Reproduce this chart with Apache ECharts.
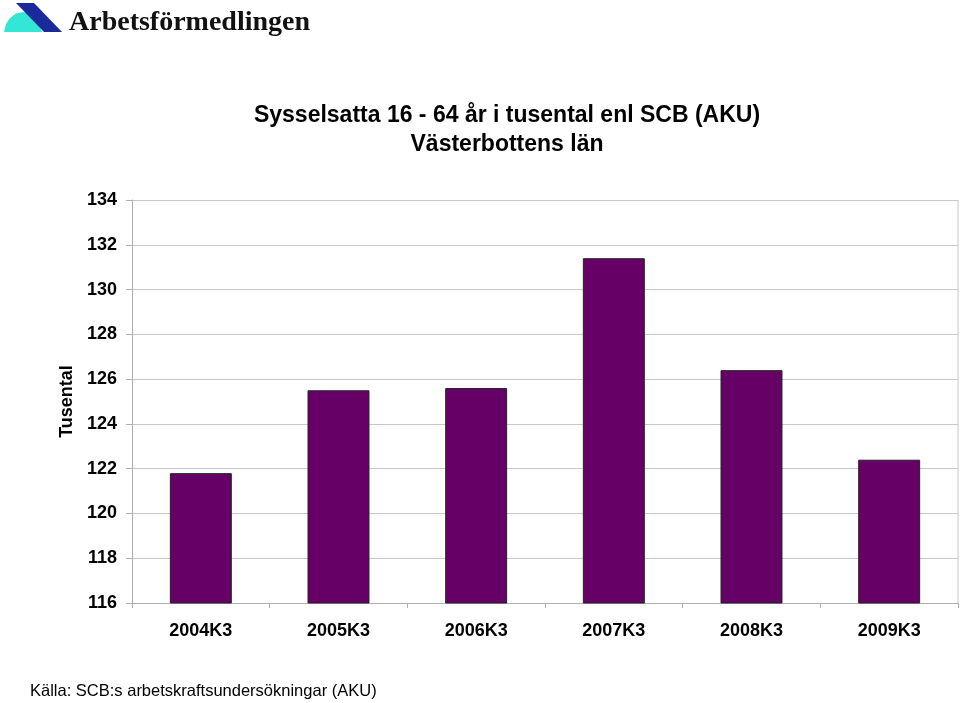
<!DOCTYPE html>
<html><head><meta charset="utf-8">
<script src="https://cdn.jsdelivr.net/npm/echarts@6/dist/echarts.min.js"></script>
<style>html,body{margin:0;padding:0;background:#fff}#c{width:960px;height:703px}</style>
</head><body><div id="c"></div>
<script>
const categories = ['2004K3','2005K3','2006K3','2007K3','2008K3','2009K3'];
const values = [121.8, 125.5, 125.6, 131.4, 126.4, 122.4];
const yTicks = [116,118,120,122,124,126,128,130,132,134];

const chart = echarts.init(document.getElementById('c'), null, {renderer:'canvas'});
const F = 'Liberation Sans, Arial, sans-serif';
chart.setOption({
  animation:false,
  backgroundColor:'#fff',
  title:{
    text:'Sysselsatta 16 - 64 år i tusental enl SCB (AKU)\nVästerbottens län',
    left:502, top:96, textAlign:'center',
    textStyle:{fontFamily:F,fontSize:23,fontWeight:'bold',color:'#000',lineHeight:29}
  },
  grid:{left:132,right:2,top:200,bottom:100},
  xAxis:{
    type:'category', data:categories,
    axisLine:{lineStyle:{color:'#b0b0b0'}},
    axisTick:{show:true,alignWithLabel:false,length:5,lineStyle:{color:'#b0b0b0'}},
    axisLabel:{fontFamily:F,fontSize:18,fontWeight:'bold',color:'#000',margin:19}
  },
  yAxis:{
    type:'value', min:116, max:134, interval:2,
    name:'Tusental', nameLocation:'middle', nameGap:52, nameRotate:90,
    nameTextStyle:{fontFamily:F,fontSize:18,fontWeight:'bold',color:'#000'},
    axisLine:{show:true,lineStyle:{color:'#b0b0b0'}},
    axisTick:{show:true,length:6,lineStyle:{color:'#b0b0b0'}},
    axisLabel:{fontFamily:F,fontSize:18,fontWeight:'bold',color:'#000',margin:15},
    splitLine:{show:true,lineStyle:{color:'#c8c8c8',width:1}}
  },
  series:[{
    type:'bar', data:values, barWidth:'45%',
    itemStyle:{color:'#660066',borderColor:'#222',borderWidth:1}
  }],
  graphic:[
    {type:'line',shape:{x1:958,y1:200,x2:958,y2:603},style:{stroke:'#c8c8c8',lineWidth:1}},
    {type:'polygon',shape:{points:[[4,32],[6,24],[10,18],[16,13.5],[23,12],[30,13.5],[35,18],[39,24],[42,32]]},style:{fill:'#33e6d6'}},
    {type:'polygon',shape:{points:[[16,3],[34,3],[62,32],[44,32]]},style:{fill:'#1a2a9a'}},
    {type:'text',left:69,top:9,style:{text:'Arbetsförmedlingen',font:'bold 28px "Liberation Serif", "DejaVu Serif", serif',fill:'#111'}},
    {type:'text',left:30,top:683,style:{text:'Källa: SCB:s arbetskraftsundersökningar (AKU)',font:'16.5px Liberation Sans, Arial, sans-serif',fill:'#000'}}
  ]
});
</script></body></html>
